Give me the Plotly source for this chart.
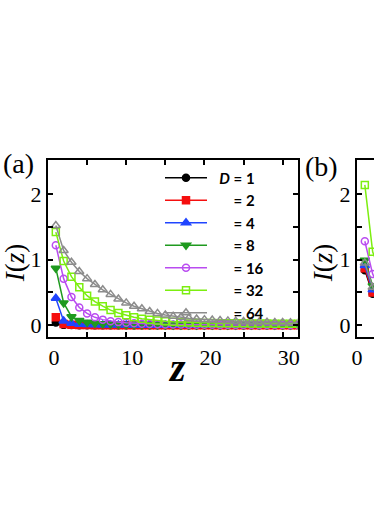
import plotly.graph_objects as go

# panel (a): I(z) against z for several bond dimensions D
z = list(range(1, 33))
d_labels = ['1', '2', '4', '8', '16', '32', '64']

i_d1 = [0.04, 0.005, 0.002, 0.001, 0.001, 0.0, 0.0, 0.0, 0.0, 0.0, 0.0, 0.0, 0.0, 0.0, 0.0, 0.0,
        0.0, 0.0, 0.0, 0.0, 0.0, 0.0, 0.0, 0.0, 0.0, 0.0, 0.0, 0.0, 0.0, 0.0, 0.0, 0.0]
i_d2 = [0.12, 0.02, 0.008, 0.004, 0.002, 0.001, 0.001, 0.0, 0.0, 0.0, 0.0, 0.0, 0.0, 0.0, 0.0, 0.0,
        0.0, 0.0, 0.0, 0.0, 0.0, 0.0, 0.0, 0.0, 0.0, 0.0, 0.0, 0.0, 0.0, 0.0, 0.0, 0.0]
i_d4 = [0.41, 0.065, 0.03, 0.015, 0.009, 0.006, 0.004, 0.003, 0.002, 0.002, 0.001, 0.001, 0.001, 0.001, 0.0, 0.0,
        0.0, 0.0, 0.0, 0.0, 0.0, 0.0, 0.0, 0.0, 0.0, 0.0, 0.0, 0.0, 0.0, 0.0, 0.0, 0.0]
i_d8 = [0.87, 0.34, 0.13, 0.07, 0.045, 0.03, 0.022, 0.017, 0.013, 0.01, 0.008, 0.007, 0.006, 0.005, 0.004, 0.004,
        0.003, 0.003, 0.002, 0.002, 0.002, 0.002, 0.001, 0.001, 0.001, 0.001, 0.001, 0.001, 0.001, 0.001, 0.001, 0.001]
i_d16 = [1.22, 0.71, 0.43, 0.27, 0.18, 0.12, 0.085, 0.062, 0.047, 0.036, 0.028, 0.022, 0.018, 0.015, 0.012, 0.01,
         0.009, 0.008, 0.007, 0.006, 0.006, 0.005, 0.005, 0.004, 0.004, 0.004, 0.003, 0.003, 0.003, 0.003, 0.002, 0.002]
i_d32 = [1.42, 0.98, 0.74, 0.58, 0.45, 0.36, 0.29, 0.23, 0.185, 0.15, 0.12, 0.10, 0.085, 0.07, 0.06, 0.052,
         0.046, 0.042, 0.038, 0.035, 0.033, 0.031, 0.03, 0.029, 0.028, 0.027, 0.026, 0.025, 0.024, 0.023, 0.022, 0.021]
i_d64 = [1.52, 1.14, 0.96, 0.82, 0.71, 0.62, 0.54, 0.47, 0.40, 0.34, 0.29, 0.25, 0.21, 0.18, 0.155, 0.135,
         0.12, 0.105, 0.095, 0.085, 0.078, 0.072, 0.066, 0.06, 0.056, 0.052, 0.048, 0.045, 0.042, 0.04, 0.037, 0.035]

# panel (b): only the first points are inside the picture
z_b = [1, 2, 3]
b_d1 = [0.84, 0.48, 0.3]
b_d2 = [0.87, 0.5, 0.32]
b_d4 = [0.91, 0.54, 0.35]
b_d8 = [0.99, 0.6, 0.4]
b_d16 = [1.28, 0.78, 0.55]
b_d32 = [2.14, 1.12, 0.8]
b_d64 = [0.95, 0.58, 0.38]

series_a = [i_d1, i_d2, i_d4, i_d8, i_d16, i_d32, i_d64]
series_b = [b_d1, b_d2, b_d4, b_d8, b_d16, b_d32, b_d64]
colors = ['#000000', '#f50f0f', '#2045ff', '#1f9a1f', '#b94cf0', '#7cee10', '#8c8c8c']
symbols = ['circle', 'square', 'triangle-up', 'triangle-down', 'circle-open', 'square-open', 'triangle-up-open']
sizes = [7, 7, 8, 8, 7, 7, 8]

W, H = 374, 528
L, R_EDGE, TOP, BOT = 48, 374, 159.5, 337


def px_x(p):
    return (p - L) / (R_EDGE - L)


def px_y(p):
    return (BOT - p) / (BOT - TOP)


fig = go.Figure()

for k, (ya, yb) in enumerate(zip(series_a, series_b)):
    pad = '\u00a0\u00a0'
    if k == 0:
        name = '<b>%s<i>D</i> = 1</b>' % pad
    else:
        name = '<b>%s<span style="color:rgba(0,0,0,0)"><i>D</i></span> = %s</b>' % (pad, d_labels[k])
    mk = dict(symbol=symbols[k], size=sizes[k], color=colors[k], line=dict(width=1.5, color=colors[k]))
    fig.add_trace(go.Scatter(
        x=z, y=ya, mode='lines+markers', name=name,
        line=dict(color=colors[k], width=1.5), marker=mk,
        xaxis='x', yaxis='y'
    ))
    fig.add_trace(go.Scatter(
        x=z_b, y=yb, mode='lines+markers', showlegend=False,
        line=dict(color=colors[k], width=1.5), marker=mk,
        xaxis='x2', yaxis='y2'
    ))

serif = 'Liberation Serif, Times New Roman, serif'
tickfont = dict(family=serif, size=22, color='black')
axis_common = dict(showline=True, linecolor='black', linewidth=2, ticks='inside', ticklen=5,
                   tickwidth=1.5, tickcolor='black', showgrid=False, zeroline=False, tickfont=tickfont)
minor_x = dict(tickvals=[5, 15, 25], ticks='inside', ticklen=5, tickwidth=1.5, tickcolor='black')
minor_y = dict(tickvals=[0.5, 1.5], ticks='inside', ticklen=5, tickwidth=1.5, tickcolor='black')

fig.update_layout(
    template='none',
    width=W, height=H,
    font=dict(color='black'),
    margin=dict(l=L, r=0, t=TOP, b=H - BOT, autoexpand=False),
    paper_bgcolor='white', plot_bgcolor='white',
    xaxis=dict(domain=[0, px_x(297.5)], range=[0, 31.9], tickvals=[0, 10, 20, 30], minor=minor_x,
               mirror='allticks', ticklabelshift=6, ticklabelstandoff=0, **axis_common),
    yaxis=dict(domain=[0, 1], range=[-0.18, 2.52], tickvals=[0, 1, 2], minor=minor_y,
               mirror='allticks', **axis_common),
    xaxis2=dict(domain=[px_x(357), 1], range=[0, 2.17], anchor='y2', tickvals=[0],
                mirror=True, ticklabelstandoff=0, **axis_common),
    yaxis2=dict(domain=[0, 1], range=[-0.18, 2.52], anchor='x2', tickvals=[0, 1, 2], minor=minor_y,
                mirror=False, **axis_common),
    legend=dict(x=px_x(160), y=px_y(161), xanchor='left', yanchor='top',
                bgcolor='rgba(0,0,0,0)', itemwidth=42, tracegroupgap=0,
                font=dict(family='Lato, Open Sans, sans-serif', size=15, color='black')),
    showlegend=True,
)

ann = [
    dict(text='(a)', x=px_x(18), y=px_y(163), font=dict(family=serif, size=28, color='black')),
    dict(text='(b)', x=px_x(321), y=px_y(166), font=dict(family=serif, size=28, color='black')),
    dict(text='<i>I</i>(<i>z</i>)', x=px_x(15), y=px_y(263), textangle=-90,
         font=dict(family=serif, size=27, color='black')),
    dict(text='<i>I</i>(<i>z</i>)', x=px_x(323), y=px_y(263), textangle=-90,
         font=dict(family=serif, size=27, color='black')),
    dict(text='<b><i>z</i></b>', x=px_x(177), y=px_y(368), font=dict(family=serif, size=40, color='black')),
]
for a in ann:
    fig.add_annotation(xref='paper', yref='paper', showarrow=False,
                       xanchor='center', yanchor='middle', **a)

# the page has a default body margin; drop it so the figure sits at the corner
fig.write_html("out.html", config={'displayModeBar': False},
               post_script="document.body.style.margin='0';")
